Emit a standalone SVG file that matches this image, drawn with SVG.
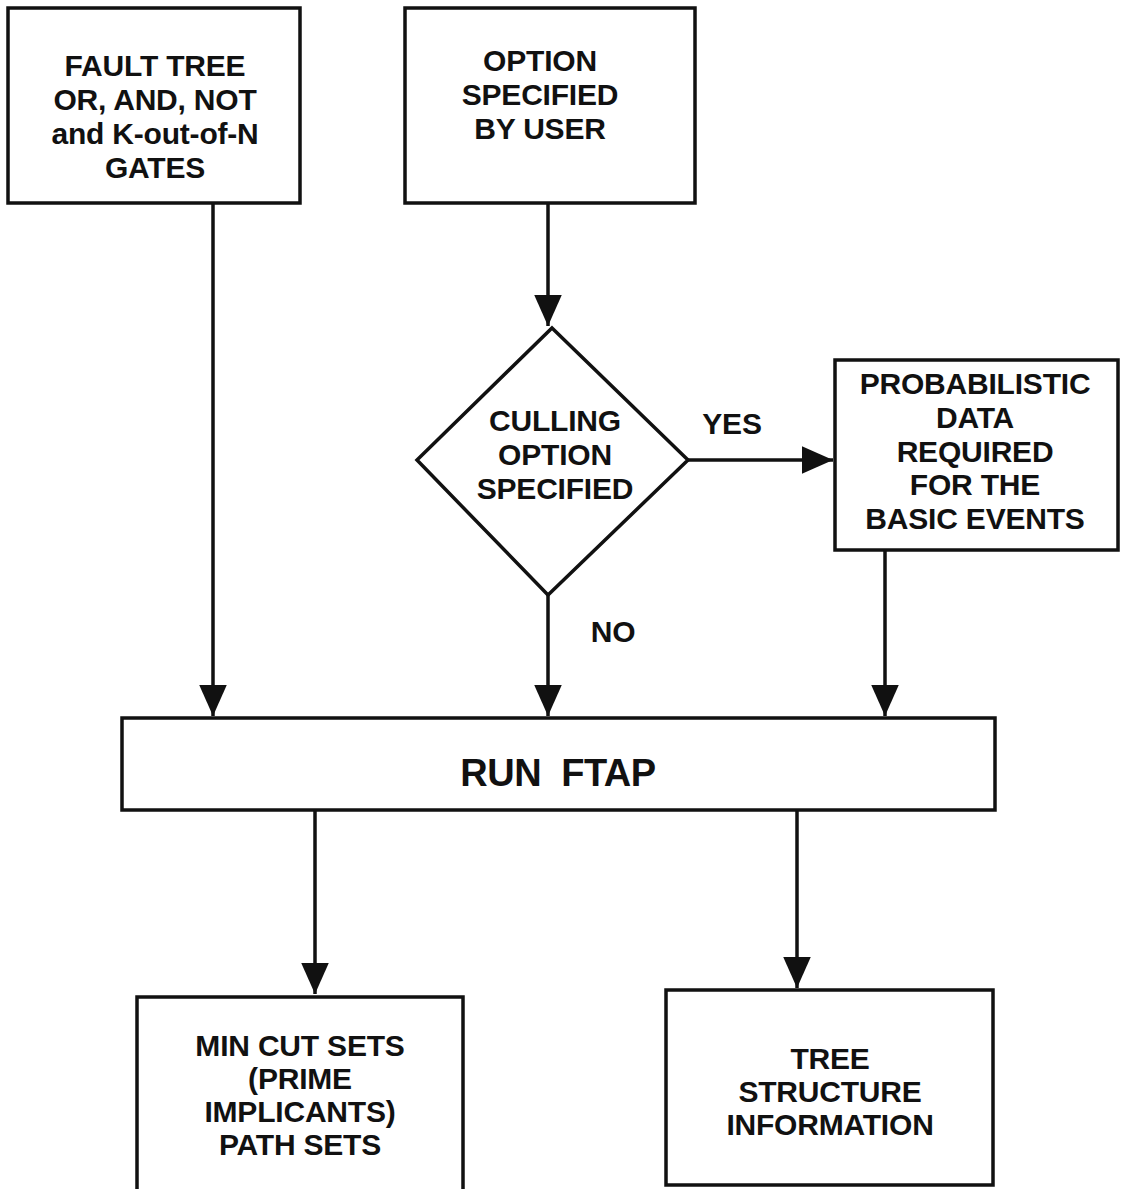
<svg xmlns="http://www.w3.org/2000/svg" width="1123" height="1189" viewBox="0 0 1123 1189">
<style>
.box{fill:#fff;stroke:#111;stroke-width:3.5}
.t{font-family:"Liberation Sans",Arial,sans-serif;font-weight:bold;font-size:30px;fill:#111;text-anchor:middle;letter-spacing:-0.2px}
.c{stroke:#111;stroke-width:3.5;fill:none}
</style>
<defs>
<marker id="ah" markerWidth="10" markerHeight="9" refX="9" refY="4" orient="auto" markerUnits="strokeWidth">
<path d="M0,0 L9,4 L0,8 Z" fill="#111"/>
</marker>
</defs>
<rect width="1123" height="1189" fill="#fff"/>
<g id="connectors">
<line class="c" x1="213" y1="203" x2="213" y2="716" marker-end="url(#ah)"/>
<line class="c" x1="548" y1="203" x2="548" y2="326" marker-end="url(#ah)"/>
<line class="c" x1="688" y1="460" x2="833" y2="460" marker-end="url(#ah)"/>
<line class="c" x1="548" y1="595" x2="548" y2="716" marker-end="url(#ah)"/>
<line class="c" x1="885" y1="550" x2="885" y2="716" marker-end="url(#ah)"/>
<line class="c" x1="315" y1="810" x2="315" y2="994" marker-end="url(#ah)"/>
<line class="c" x1="797" y1="810" x2="797" y2="988" marker-end="url(#ah)"/>
<text class="t" x="732" y="434">YES</text>
<text class="t" x="613" y="642">NO</text>
</g>
<g id="fault-tree">
<rect class="box" x="8" y="8" width="292" height="195"/>
<text class="t" x="155" y="76">FAULT TREE</text>
<text class="t" x="155" y="110">OR, AND, NOT</text>
<text class="t" x="155" y="144">and K-out-of-N</text>
<text class="t" x="155" y="178">GATES</text>
</g>
<g id="option-user">
<rect class="box" x="405" y="8" width="290" height="195"/>
<text class="t" x="540" y="71">OPTION</text>
<text class="t" x="540" y="105">SPECIFIED</text>
<text class="t" x="540" y="139">BY USER</text>
</g>
<g id="culling-decision">
<polygon class="box" points="552,328 688,460 548,595 417,460"/>
<text class="t" x="555" y="431">CULLING</text>
<text class="t" x="555" y="465">OPTION</text>
<text class="t" x="555" y="499">SPECIFIED</text>
</g>
<g id="probabilistic-data">
<rect class="box" x="835" y="360" width="283" height="190"/>
<text class="t" x="975" y="394">PROBABILISTIC</text>
<text class="t" x="975" y="428">DATA</text>
<text class="t" x="975" y="462">REQUIRED</text>
<text class="t" x="975" y="495">FOR THE</text>
<text class="t" x="975" y="529">BASIC EVENTS</text>
</g>
<g id="run-ftap">
<rect class="box" x="122" y="718" width="873" height="92"/>
<text class="t" x="558" y="786" style="font-size:38px;letter-spacing:-0.5px" xml:space="preserve">RUN  FTAP</text>
</g>
<g id="min-cut-sets">
<rect class="box" x="137" y="997" width="326" height="195"/>
<text class="t" x="300" y="1056">MIN CUT SETS</text>
<text class="t" x="300" y="1089">(PRIME</text>
<text class="t" x="300" y="1122">IMPLICANTS)</text>
<text class="t" x="300" y="1155">PATH SETS</text>
</g>
<g id="tree-structure">
<rect class="box" x="666" y="990" width="327" height="195"/>
<text class="t" x="830" y="1069">TREE</text>
<text class="t" x="830" y="1102">STRUCTURE</text>
<text class="t" x="830" y="1135">INFORMATION</text>
</g>
</svg>
